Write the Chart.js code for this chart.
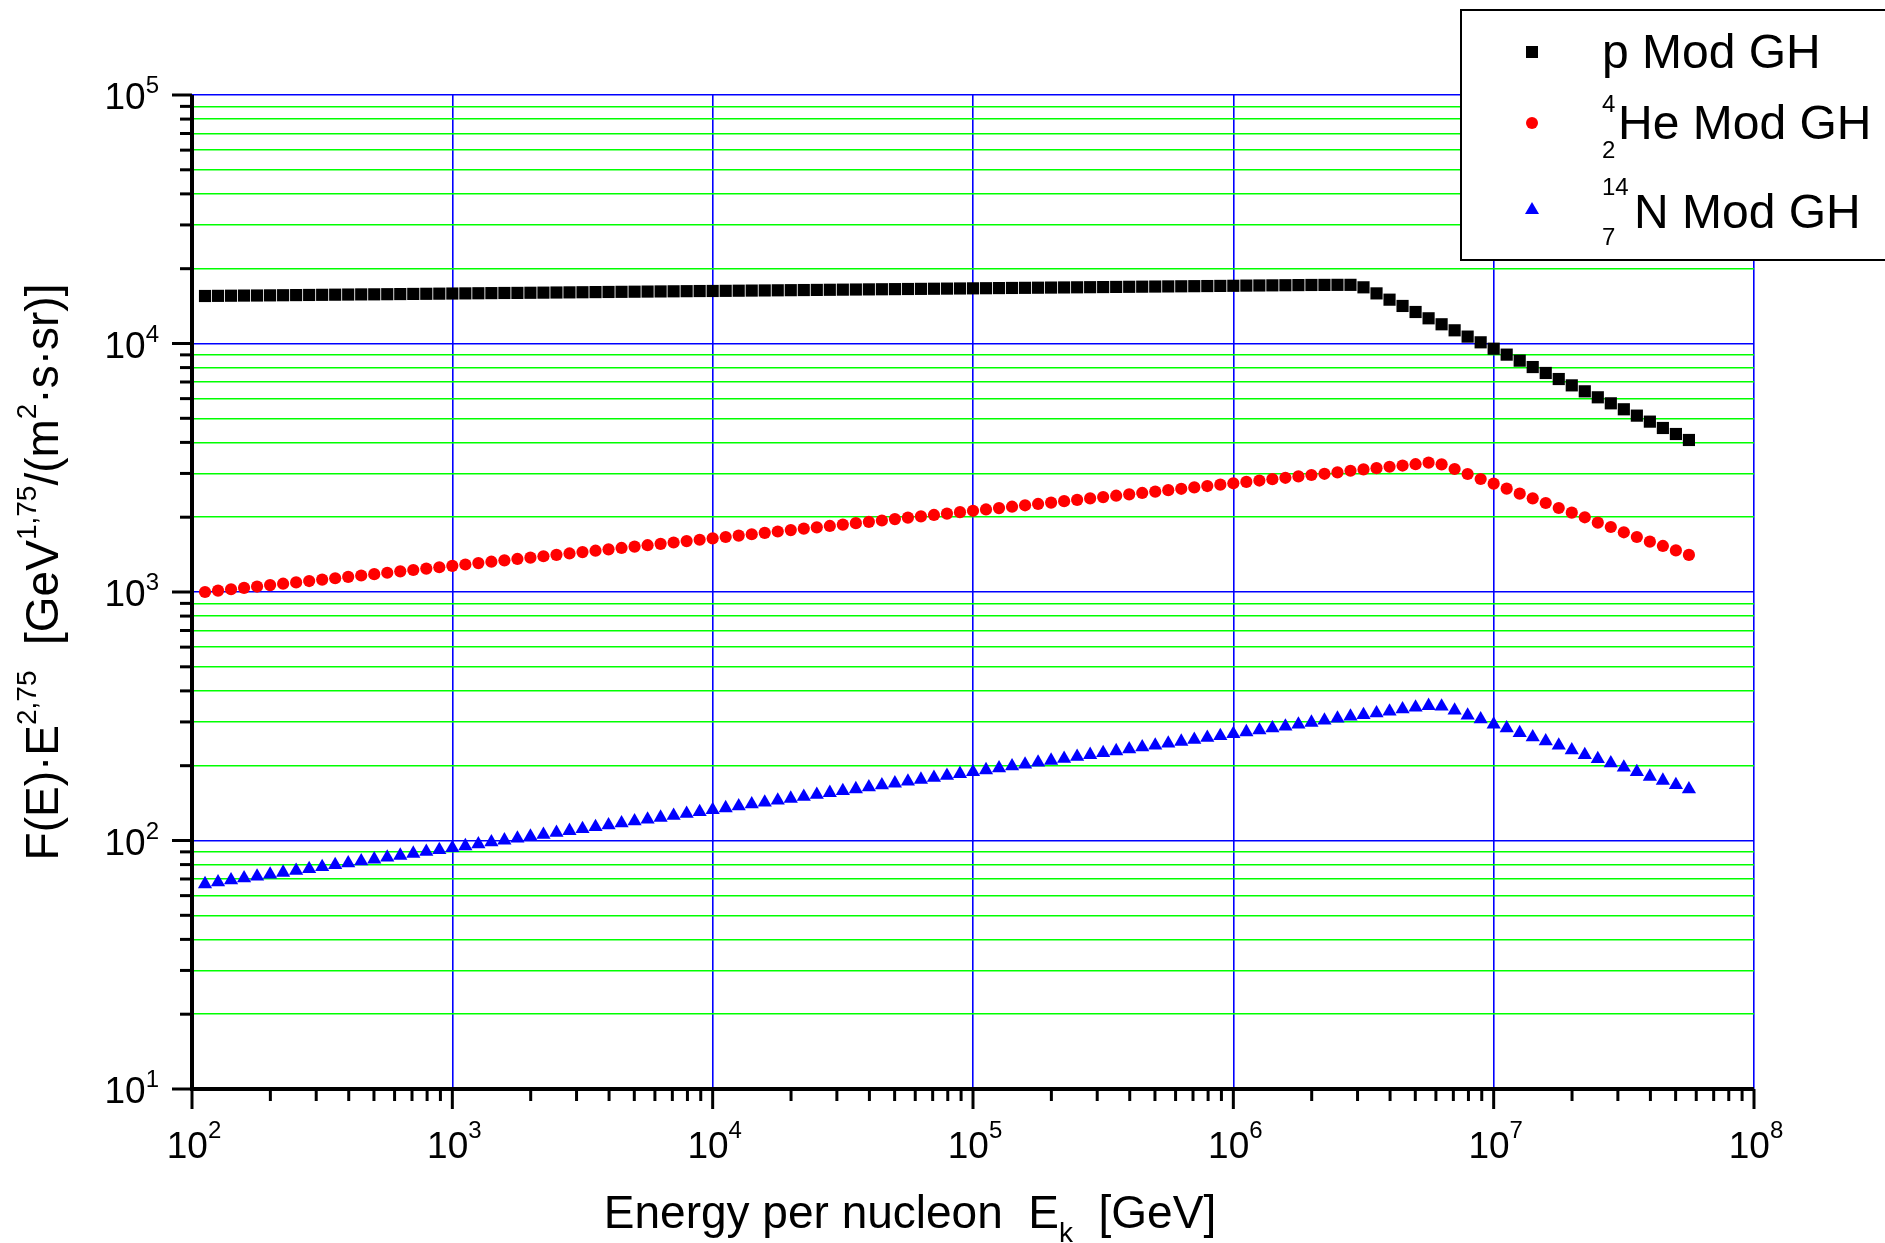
<!DOCTYPE html>
<html>
<head>
<meta charset="utf-8">
<title>Mod GH - F(E)·E^2.75</title>
<script src="https://cdn.jsdelivr.net/npm/chart.js@4.4.0/dist/chart.umd.min.js"></script>
<style>
  html, body { margin: 0; padding: 0; background: #ffffff; }
  #wrap { width: 1885px; height: 1243px; position: relative; }
</style>
</head>
<body>
<div id="wrap"><canvas id="chart" width="1885" height="1243"></canvas></div>
<script>
// Energia por nucleón (log10 de E_k en GeV), una muestra cada 0.05 décadas
const logE = [
    2.05, 2.10, 2.15, 2.20, 2.25, 2.30, 2.35, 2.40, 2.45, 2.50,
    2.55, 2.60, 2.65, 2.70, 2.75, 2.80, 2.85, 2.90, 2.95, 3.00,
    3.05, 3.10, 3.15, 3.20, 3.25, 3.30, 3.35, 3.40, 3.45, 3.50,
    3.55, 3.60, 3.65, 3.70, 3.75, 3.80, 3.85, 3.90, 3.95, 4.00,
    4.05, 4.10, 4.15, 4.20, 4.25, 4.30, 4.35, 4.40, 4.45, 4.50,
    4.55, 4.60, 4.65, 4.70, 4.75, 4.80, 4.85, 4.90, 4.95, 5.00,
    5.05, 5.10, 5.15, 5.20, 5.25, 5.30, 5.35, 5.40, 5.45, 5.50,
    5.55, 5.60, 5.65, 5.70, 5.75, 5.80, 5.85, 5.90, 5.95, 6.00,
    6.05, 6.10, 6.15, 6.20, 6.25, 6.30, 6.35, 6.40, 6.45, 6.50,
    6.55, 6.60, 6.65, 6.70, 6.75, 6.80, 6.85, 6.90, 6.95, 7.00,
    7.05, 7.10, 7.15, 7.20, 7.25, 7.30, 7.35, 7.40, 7.45, 7.50,
    7.55, 7.60, 7.65, 7.70, 7.75
];

// p Mod GH
const protonFlux = [
    15530, 15550, 15570, 15590, 15600, 15620, 15640, 15660, 15680, 15700,
    15720, 15740, 15760, 15770, 15790, 15810, 15830, 15850, 15870, 15890,
    15910, 15930, 15950, 15970, 15980, 16000, 16020, 16040, 16060, 16080,
    16100, 16120, 16140, 16160, 16180, 16200, 16220, 16240, 16260, 16270,
    16290, 16310, 16330, 16350, 16370, 16390, 16410, 16430, 16450, 16470,
    16490, 16510, 16530, 16550, 16570, 16590, 16610, 16630, 16650, 16670,
    16690, 16710, 16730, 16750, 16770, 16790, 16810, 16830, 16850, 16870,
    16890, 16910, 16930, 16950, 16970, 16990, 17010, 17030, 17050, 17070,
    17100, 17120, 17140, 17160, 17180, 17200, 17210, 17220, 17220, 16830,
    15910, 15010, 14160, 13390, 12630, 11950, 11300, 10660, 10110, 9530,
    9020, 8530, 8040, 7610, 7195, 6785, 6420, 6074, 5745, 5436,
    5125, 4848, 4571, 4323, 4090
];

// 4/2 He Mod GH
const heliumFlux = [
    1000, 1013, 1026, 1039, 1052, 1066, 1080, 1093, 1107, 1122,
    1136, 1151, 1165, 1180, 1195, 1211, 1226, 1242, 1258, 1274,
    1290, 1307, 1324, 1341, 1358, 1375, 1393, 1411, 1429, 1447,
    1466, 1485, 1504, 1523, 1543, 1562, 1582, 1603, 1623, 1644,
    1665, 1687, 1708, 1730, 1752, 1775, 1798, 1821, 1844, 1868,
    1892, 1916, 1940, 1965, 1991, 2016, 2042, 2068, 2095, 2122,
    2149, 2176, 2204, 2233, 2261, 2290, 2320, 2349, 2380, 2410,
    2441, 2472, 2504, 2536, 2569, 2602, 2635, 2669, 2703, 2738,
    2773, 2809, 2845, 2881, 2918, 2957, 2990, 3030, 3075, 3115,
    3150, 3192, 3228, 3268, 3315, 3264, 3126, 2985, 2849, 2729,
    2605, 2487, 2382, 2281, 2178, 2086, 1998, 1901, 1826, 1739,
    1665, 1594, 1532, 1470, 1410
];

// 14/7 N Mod GH
const nitrogenFlux = [
    66.8, 68.0, 69.2, 70.5, 71.7, 73.0, 74.3, 75.6, 76.9, 78.3,
    79.7, 81.1, 82.5, 84.0, 85.5, 87.0, 88.6, 90.1, 91.7, 93.4,
    95.0, 96.7, 98.4, 100.2, 102.0, 103.8, 105.6, 107.5, 109.4, 111.3,
    113.3, 115.3, 117.4, 119.5, 121.6, 123.7, 125.9, 128.2, 130.4, 132.8,
    135.1, 137.5, 140.0, 142.4, 145.0, 147.5, 150.2, 152.8, 155.6, 158.3,
    161.1, 164.0, 166.9, 169.9, 172.9, 175.9, 179.1, 182.2, 185.5, 188.8,
    192.1, 195.5, 199.0, 202.5, 206.1, 209.8, 213.5, 217.3, 221.2, 225.1,
    229.1, 233.2, 237.3, 241.5, 245.8, 250.2, 254.6, 259.1, 263.7, 268.4,
    273.2, 278.0, 283.0, 288.0, 293.1, 298.3, 304.0, 309.8, 315.5, 320.4,
    325.3, 330.4, 337.6, 343.0, 348.3, 346.2, 333.5, 318.5, 307.8, 293.0,
    283.1, 271.2, 260.5, 251.0, 241.2, 230.9, 221.1, 213.1, 204.7, 196.7,
    188.9, 180.9, 174.3, 167.5, 160.9
];

// Marcas de los ejes
const xDecades = [1e2, 1e3, 1e4, 1e5, 1e6, 1e7, 1e8];
const yDecades = [1e1, 1e2, 1e3, 1e4, 1e5];
const minorSteps = [2, 3, 4, 5, 6, 7, 8, 9];

const FONT = '"Liberation Sans", Arial, Helvetica, sans-serif';
const GRID_MAJOR = '#0000ff';
const GRID_MINOR = '#00ff00';

function isDecade(v) {
    const l = Math.log10(v);
    return Math.abs(l - Math.round(l)) < 1e-9;
}

function buildTicks(decades) {
    const ticks = [];
    decades.forEach((d, i) => {
        ticks.push({ value: d });
        if (i < decades.length - 1) {
            minorSteps.forEach(m => ticks.push({ value: d * m }));
        }
    });
    return ticks;
}

function toPoints(values) {
    return logE.map((le, i) => ({ x: Math.pow(10, le), y: values[i] }));
}

// Texto con superíndices / subíndices
function drawRich(ctx, parts, x, y, align) {
    let total = 0;
    parts.forEach(p => {
        ctx.font = p.size + 'px ' + FONT;
        p.w = ctx.measureText(p.text).width;
        total += p.w;
    });
    let cx = x;
    if (align === 'center') cx = x - total / 2;
    if (align === 'right') cx = x - total;
    parts.forEach(p => {
        ctx.font = p.size + 'px ' + FONT;
        ctx.fillText(p.text, cx, y + (p.dy || 0));
        cx += p.w;
    });
    return total;
}

function drawMarker(ctx, style, x, y, color) {
    ctx.fillStyle = color;
    ctx.beginPath();
    if (style === 'rect') {
        ctx.rect(x - 6, y - 6, 12, 12);
    } else if (style === 'circle') {
        ctx.arc(x, y, 6, 0, Math.PI * 2);
    } else {
        ctx.moveTo(x, y - 8);
        ctx.lineTo(x + 7, y + 4);
        ctx.lineTo(x - 7, y + 4);
        ctx.closePath();
    }
    ctx.fill();
}

const decorPlugin = {
    id: 'decor',
    afterDraw(chart) {
        const ctx = chart.ctx;
        const a = chart.chartArea;
        const xs = chart.scales.x;
        const ys = chart.scales.y;

        ctx.save();
        ctx.fillStyle = '#000';
        ctx.strokeStyle = '#000';
        ctx.textBaseline = 'alphabetic';
        ctx.textAlign = 'left';

        // ejes
        ctx.lineWidth = 4;
        ctx.beginPath();
        ctx.moveTo(a.left, a.top);
        ctx.lineTo(a.left, a.bottom);
        ctx.lineTo(a.right, a.bottom);
        ctx.stroke();

        // marcas
        ctx.lineWidth = 3;
        ys.ticks.forEach(t => {
            const py = ys.getPixelForValue(t.value);
            const len = isDecade(t.value) ? 20 : 12;
            ctx.beginPath();
            ctx.moveTo(a.left - len, py);
            ctx.lineTo(a.left, py);
            ctx.stroke();
        });
        xs.ticks.forEach(t => {
            const px = xs.getPixelForValue(t.value);
            const len = isDecade(t.value) ? 20 : 12;
            ctx.beginPath();
            ctx.moveTo(px, a.bottom);
            ctx.lineTo(px, a.bottom + len);
            ctx.stroke();
        });

        // etiquetas
        yDecades.forEach(v => {
            const py = ys.getPixelForValue(v);
            drawRich(ctx, [
                { text: '10', size: 37 },
                { text: String(Math.round(Math.log10(v))), size: 24, dy: -16 }
            ], 159, py + 14, 'right');
        });
        xDecades.forEach(v => {
            const px = xs.getPixelForValue(v);
            drawRich(ctx, [
                { text: '10', size: 37 },
                { text: String(Math.round(Math.log10(v))), size: 24, dy: -20 }
            ], px + 2, a.bottom + 69, 'center');
        });

        // título eje x
        drawRich(ctx, [
            { text: 'Energy per nucleon  E', size: 46 },
            { text: 'k', size: 28, dy: 14 },
            { text: '  [GeV]', size: 46 }
        ], 910, 1228, 'center');

        // título eje y
        ctx.save();
        ctx.translate(58, 572);
        ctx.rotate(-Math.PI / 2);
        drawRich(ctx, [
            { text: 'F(E)·E', size: 46 },
            { text: '2,75', size: 28, dy: -22 },
            { text: '  [GeV', size: 46 },
            { text: '1,75', size: 28, dy: -22 },
            { text: '/(m', size: 46 },
            { text: '2', size: 28, dy: -22 },
            { text: '·s·sr)]', size: 46 }
        ], 0, 0, 'center');
        ctx.restore();

        // leyenda
        ctx.fillStyle = '#fff';
        ctx.fillRect(1461, 10, 440, 250);
        ctx.lineWidth = 2;
        ctx.strokeStyle = '#000';
        ctx.strokeRect(1461, 10, 440, 250);

        drawMarker(ctx, 'rect', 1532, 52, '#000000');
        drawMarker(ctx, 'circle', 1532, 123, '#ff0000');
        drawMarker(ctx, 'triangle', 1532, 210, '#0000ff');

        ctx.fillStyle = '#000';
        ctx.font = '48px ' + FONT;
        ctx.fillText('p Mod GH', 1602, 68);

        ctx.font = '24px ' + FONT;
        ctx.fillText('4', 1602, 112);
        ctx.fillText('2', 1602, 158);
        ctx.font = '48px ' + FONT;
        ctx.fillText('He Mod GH', 1618, 139);

        ctx.font = '24px ' + FONT;
        ctx.fillText('14', 1602, 195);
        ctx.fillText('7', 1602, 245);
        ctx.font = '48px ' + FONT;
        ctx.fillText('N Mod GH', 1634, 228);

        ctx.restore();
    }
};

const gridColor = (ctx, minorColor) => {
    if (!ctx.tick) return 'rgba(0,0,0,0)';
    return isDecade(ctx.tick.value) ? GRID_MAJOR : minorColor;
};

new Chart(document.getElementById('chart'), {
    type: 'scatter',
    data: {
        datasets: [
            {
                label: 'p Mod GH',
                data: toPoints(protonFlux),
                pointStyle: 'rect',
                pointRadius: 8.6,
                pointBorderWidth: 0,
                pointBackgroundColor: '#000000',
                showLine: false
            },
            {
                label: 'He Mod GH',
                data: toPoints(heliumFlux),
                pointStyle: 'circle',
                pointRadius: 6.1,
                pointBorderWidth: 0,
                pointBackgroundColor: '#ff0000',
                showLine: false
            },
            {
                label: 'N Mod GH',
                data: toPoints(nitrogenFlux),
                pointStyle: 'triangle',
                pointRadius: 8.2,
                pointBorderWidth: 0,
                pointBackgroundColor: '#0000ff',
                showLine: false
            }
        ]
    },
    options: {
        responsive: false,
        animation: false,
        devicePixelRatio: 1,
        events: [],
        layout: { padding: { left: 192, top: 95, right: 131, bottom: 154 } },
        plugins: {
            legend: { display: false },
            tooltip: { enabled: false }
        },
        scales: {
            x: {
                type: 'logarithmic',
                min: 1e2,
                max: 1e8,
                afterBuildTicks: scale => { scale.ticks = buildTicks(xDecades); },
                afterFit: scale => { scale.height = 0; },
                ticks: { display: false, autoSkip: false },
                border: { display: false },
                grid: {
                    drawTicks: false,
                    color: ctx => gridColor(ctx, 'rgba(0,0,0,0)'),
                    lineWidth: 1.6
                }
            },
            y: {
                type: 'logarithmic',
                min: 1e1,
                max: 1e5,
                afterBuildTicks: scale => { scale.ticks = buildTicks(yDecades); },
                afterFit: scale => { scale.width = 0; },
                ticks: { display: false, autoSkip: false },
                border: { display: false },
                grid: {
                    drawTicks: false,
                    color: ctx => gridColor(ctx, GRID_MINOR),
                    lineWidth: 1.4
                }
            }
        }
    },
    plugins: [decorPlugin]
});
</script>
</body>
</html>
